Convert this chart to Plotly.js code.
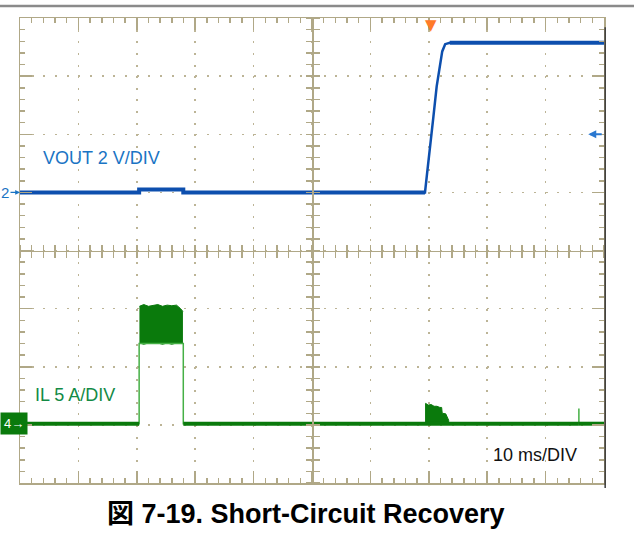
<!DOCTYPE html>
<html><head><meta charset="utf-8">
<script src="https://cdn.plot.ly/plotly-3.0.1.min.js"></script>
<style>html,body{margin:0;padding:0;background:#fff;} #chart{width:634px;height:536px;}</style>
</head><body><div id="chart"></div>
<script>
// ---- data (time in ms, VOUT in V, IL in A) ----
const voutTime  = [0, 20.4, 20.4, 27.96, 27.96, 69.35, 69.65, 70.2, 70.8, 71.35, 71.9, 72.3, 72.8, 73.6, 100];
const voutVolts = [0, 0, 0.1, 0.1, 0, 0, 0.55, 1.47, 2.62, 3.65, 4.45, 4.85, 5.1, 5.15, 5.15];
const ilTime = [0, 20.4, 20.4, 27.96, 27.96, 95.7, 95.7, 95.7, 100];
const ilAmps = [0.1, 0.1, 7.0, 7.0, 0.1, 0.1, 1.4, 0.1, 0.1];
const bandTime   = [20.45, 21.2, 22.0, 22.8, 23.6, 24.4, 25.2, 26.0, 26.8, 27.5, 27.9];
const bandTop    = [10.2, 10.35, 10.2, 10.3, 10.35, 10.2, 10.3, 10.25, 10.3, 10.0, 9.75];
const bandBottom = [7.0, 6.9, 7.0, 6.95, 7.0, 6.9, 7.0, 6.9, 7.0, 6.95, 7.0];
const bumpTime = [69.45, 69.45, 69.9, 70.4, 70.9, 71.4, 71.9, 72.2, 72.3, 72.9, 73.4, 73.4];
const bumpAmps = [0.1, 1.85, 1.7, 1.75, 1.6, 1.6, 1.5, 1.5, 1.0, 0.95, 0.4, 0.1];
const triggerTime = 70.4;
const vMarkerLevel = 2;
const timeRange = [0, 100];   // 10 ms/div
const voutRange = [-10, 6];   // 2 V/div
const ilRange = [-5, 35];     // 5 A/div
const labels = {vout: 'VOUT 2 V/DIV', il: 'IL 5 A/DIV', time: '10 ms/DIV', title: '図 7-19. Short-Circuit Recovery'};

// ---- styles ----
const TAN = '#b0a887', DOT = '#bcb496';
const BLUE = '#0d4fae', BLUE_TXT = '#1a74c4';
const GREEN = '#0a7a0c', GREEN_LT = '#45b045', GREEN_TXT = '#138a45';
const FONT = 'Liberation Sans, Arial, sans-serif';

const traces = [
  {x: bandTime, y: bandBottom, yaxis: 'y2', mode: 'lines', line: {width: 0, color: GREEN}, hoverinfo: 'skip'},
  {x: bandTime, y: bandTop, yaxis: 'y2', mode: 'lines', fill: 'tonexty', fillcolor: GREEN, line: {width: 1, color: GREEN}, hoverinfo: 'skip'},
  {x: bumpTime, y: bumpAmps, yaxis: 'y2', mode: 'lines', fill: 'toself', fillcolor: GREEN, line: {width: 1, color: GREEN}},
  {x: ilTime, y: ilAmps, yaxis: 'y2', mode: 'lines', line: {width: 1.5, color: GREEN_LT}},
  {x: ilTime, y: ilAmps.map(a => a < 0.5 ? a : null), yaxis: 'y2', mode: 'lines', connectgaps: false, line: {width: 4, color: GREEN}},
  {x: voutTime, y: voutVolts, mode: 'lines', line: {width: 2.5, color: BLUE}},
  {x: voutTime, y: voutVolts.map(v => (v <= 0.1 || v >= 5.15) ? v : null), mode: 'lines', connectgaps: false, line: {width: 4, color: BLUE}},
  // helpers so the centre graticule axes get drawn
  {x: [null], y: [null], xaxis: 'x2', yaxis: 'y', mode: 'lines', hoverinfo: 'skip'},
  {x: [null], y: [null], xaxis: 'x3', yaxis: 'y', mode: 'lines', hoverinfo: 'skip'},
  {x: [null], y: [null], xaxis: 'x', yaxis: 'y3', mode: 'lines', hoverinfo: 'skip'},
  {x: [null], y: [null], xaxis: 'x', yaxis: 'y4', mode: 'lines', hoverinfo: 'skip'}
];

const centreX = (side) => ({overlaying: 'x', anchor: 'free', position: 0.5, side: side, range: timeRange,
  showline: true, linecolor: TAN, linewidth: 1.5, ticks: 'outside', ticklen: 6, tickwidth: 1.5, tickcolor: TAN,
  tickmode: 'linear', tick0: 0, dtick: 2, showgrid: false, zeroline: false, showticklabels: false});
const centreY = (side) => ({overlaying: 'y', anchor: 'free', position: 0.5, side: side, range: voutRange,
  showline: true, linecolor: TAN, linewidth: 1.5, ticks: 'outside', ticklen: 6, tickwidth: 1.5, tickcolor: TAN,
  tickmode: 'linear', tick0: 0, dtick: 0.4, showgrid: false, zeroline: false, showticklabels: false});

const layout = {
  width: 634, height: 536,
  margin: {l: 20, r: 30, t: 18, b: 53},
  paper_bgcolor: '#fff', plot_bgcolor: '#fff',
  showlegend: false,
  xaxis: {range: timeRange, tickmode: 'linear', tick0: 0, dtick: 10, showticklabels: false,
    showline: true, linecolor: TAN, linewidth: 1.5, mirror: 'ticks',
    ticks: 'inside', ticklen: 12, tickwidth: 1.5, tickcolor: TAN,
    minor: {tickmode: 'linear', dtick: 2, ticks: 'inside', ticklen: 5, tickwidth: 1.5, tickcolor: TAN, showgrid: false},
    showgrid: true, gridcolor: DOT, gridwidth: 1.5, griddash: '2px,9.63px', zeroline: false},
  yaxis: {range: voutRange, tickmode: 'linear', tick0: 0, dtick: 2, showticklabels: false,
    showline: true, linecolor: TAN, linewidth: 1.5, mirror: 'ticks',
    ticks: 'inside', ticklen: 12, tickwidth: 1.5, tickcolor: TAN,
    minor: {tickmode: 'linear', dtick: 0.4, ticks: 'inside', ticklen: 5, tickwidth: 1.5, tickcolor: TAN, showgrid: false},
    showgrid: true, gridcolor: DOT, gridwidth: 1.5, griddash: '2px,9.68px', zeroline: false},
  yaxis2: {range: ilRange, overlaying: 'y', anchor: 'x', side: 'right', showgrid: false, zeroline: false,
    showline: false, ticks: '', showticklabels: false},
  xaxis2: centreX('bottom'), xaxis3: centreX('top'),
  yaxis3: centreY('left'), yaxis4: centreY('right'),
  shapes: [
    {type: 'line', xref: 'paper', yref: 'paper', x0: -0.04, x1: 1.06, y0: 1.0258, y1: 1.0258, line: {color: '#8a8a8a', width: 2.5}},
    {type: 'line', xref: 'paper', yref: 'paper', x0: 1.002, x1: 1.002, y0: -0.011, y1: 0.98, line: {color: '#3a3a3a', width: 1.5}, layer: 'above'}
  ],
  annotations: [
    {text: labels.vout, xref: 'paper', yref: 'paper', x: 0.036, y: 0.699, xanchor: 'left', yanchor: 'middle', showarrow: false, font: {family: FONT, size: 18, color: BLUE_TXT}},
    {text: labels.il, xref: 'paper', yref: 'paper', x: 0.0223, y: 0.1892, xanchor: 'left', yanchor: 'middle', showarrow: false, font: {family: FONT, size: 18, color: GREEN_TXT}},
    {text: labels.time, xref: 'paper', yref: 'paper', x: 0.8065, y: 0.0602, xanchor: 'left', yanchor: 'middle', showarrow: false, font: {family: FONT, size: 18, color: '#111'}},
    {text: '<b>' + labels.title + '</b>', xref: 'paper', yref: 'paper', x: 0.4895, y: -0.0667, xanchor: 'center', yanchor: 'middle', showarrow: false, font: {family: 'Liberation Sans, Arial, Noto Sans CJK JP, sans-serif', size: 27, color: '#000'}},
    // channel reference markers
    {text: '2', xref: 'x', yref: 'y', x: 0, y: 0, ax: -15, ay: 0, showarrow: true, arrowhead: 2, arrowsize: 0.8, arrowwidth: 1.2, arrowcolor: BLUE_TXT, standoff: 0, font: {family: FONT, size: 15, color: BLUE_TXT}},
    {text: '4→', xref: 'paper', yref: 'y2', x: -0.0342, y: 0.1, xanchor: 'left', yanchor: 'middle', showarrow: false, bgcolor: GREEN, borderpad: 3, font: {family: FONT, size: 13, color: '#fff'}},
    {text: '', xref: 'x', yref: 'y', x: 97.3, y: vMarkerLevel, ax: 15, ay: 0, showarrow: true, arrowhead: 2, arrowsize: 0.8, arrowwidth: 2, arrowcolor: '#2a78d0', standoff: 0},
    {text: '▼', xref: 'x', yref: 'paper', x: triggerTime, y: 1.008, xanchor: 'center', yanchor: 'top', showarrow: false, font: {family: 'DejaVu Sans', size: 15, color: '#ff7a2a'}}
  ]
};

Plotly.newPlot('chart', traces, layout, {displayModeBar: false, staticPlot: true});
</script></body></html>
